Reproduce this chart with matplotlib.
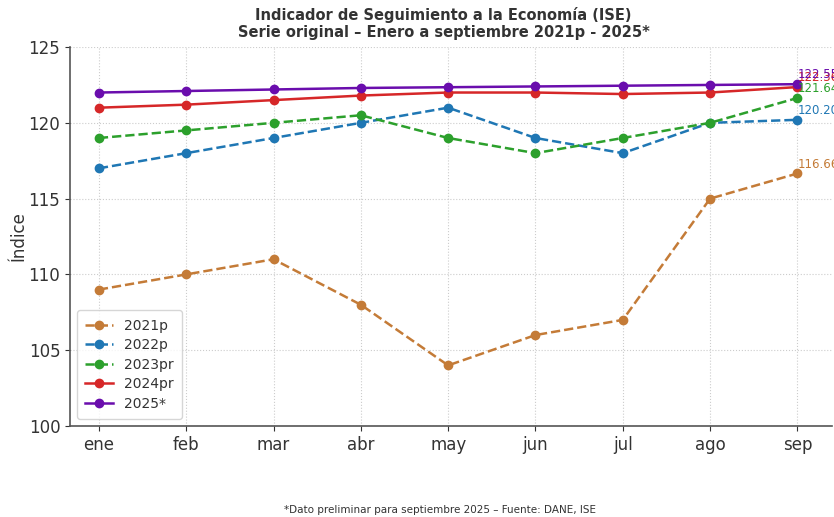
import matplotlib
matplotlib.use("Agg")
import matplotlib.pyplot as plt

months = ["ene", "feb", "mar", "abr", "may", "jun", "jul", "ago", "sep"]

ise_2021p = [109, 110, 111, 108, 104, 106, 107, 115, 116.66]
ise_2022p = [117, 118, 119, 120, 121, 119, 118, 120, 120.20]
ise_2023pr = [119, 119.5, 120, 120.5, 119, 118, 119, 120, 121.64]
ise_2024pr = [121.0, 121.2, 121.5, 121.8, 122.0, 122.0, 121.9, 122.0, 122.36]
ise_2025 = [122.0, 122.1, 122.2, 122.3, 122.35, 122.4, 122.45, 122.5, 122.55]

series = [
    ("2021p", ise_2021p, "#c47b37", "--"),
    ("2022p", ise_2022p, "#1f77b4", "--"),
    ("2023pr", ise_2023pr, "#2ca02c", "--"),
    ("2024pr", ise_2024pr, "#d62728", "-"),
    ("2025*", ise_2025, "#6a0dad", "-"),
]

fig = plt.figure(figsize=(8.34, 5.17), dpi=100)
ax = fig.add_axes([0.084, 0.176, 0.914, 0.733])

x = list(range(len(months)))
for name, vals, col, ls in series:
    ax.plot(x, vals, ls, color=col, marker="o", markersize=6, linewidth=1.8, label=name)
    ax.annotate(f"{vals[-1]:.2f}", (x[-1], vals[-1]), xytext=(0, 2),
                textcoords="offset points", color=col, fontsize=8.5,
                ha="left", va="bottom", annotation_clip=False)

ax.set_xlim(-0.33, 8.4)
ax.set_ylim(100, 125)
ax.set_xticks(x)
ax.set_xticklabels(months)
ax.set_yticks([100, 105, 110, 115, 120, 125])
ax.tick_params(labelsize=12, colors="#333333")
ax.grid(True, linestyle=":", color="#cccccc", linewidth=0.8)
for s in ["top", "right"]:
    ax.spines[s].set_visible(False)
for s in ["left", "bottom"]:
    ax.spines[s].set_color("#555555")
    ax.spines[s].set_linewidth(1.2)

ax.set_ylabel("Índice", fontsize=12, color="#333333", labelpad=1)
ax.set_title("Indicador de Seguimiento a la Economía (ISE)\nSerie original – Enero a septiembre 2021p - 2025*",
             fontsize=10.5, fontweight="bold", color="#333333", pad=7, x=0.49)
ax.legend(loc="lower left", fontsize=10, labelcolor="#333333", borderpad=0.6,
          labelspacing=0.4)

fig.text(0.527, 0.008, "*Dato preliminar para septiembre 2025 – Fuente: DANE, ISE",
         ha="center", fontsize=7.5, color="#333333")

fig.savefig("out.png", dpi=100)
